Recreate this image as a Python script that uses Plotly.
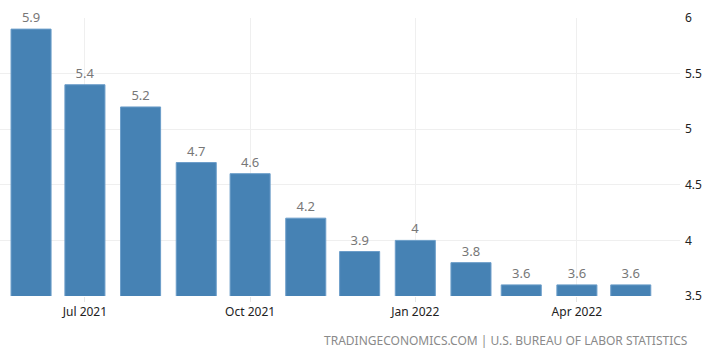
import plotly.graph_objects as go

months = ["2021-06-01", "2021-07-01", "2021-08-01", "2021-09-01", "2021-10-01", "2021-11-01",
          "2021-12-01", "2022-01-01", "2022-02-01", "2022-03-01", "2022-04-01", "2022-05-01"]
values = [5.9, 5.4, 5.2, 4.7, 4.6, 4.2, 3.9, 4.0, 3.8, 3.6, 3.6, 3.6]
labels = ["5.9", "5.4", "5.2", "4.7", "4.6", "4.2", "3.9", "4", "3.8", "3.6", "3.6", "3.6"]
tick_dates = ["2021-07-01", "2021-10-01", "2022-01-01", "2022-04-01"]
tick_text = ["Jul 2021", "Oct 2021", "Jan 2022", "Apr 2022"]
y_ticks = [3.5, 4, 4.5, 5, 5.5, 6]
y_text = ["3.5", "4", "4.5", "5", "5.5", "6"]
source = "TRADINGECONOMICS.COM | U.S. BUREAU OF LABOR STATISTICS"

FONT = "Noto Sans"
day_ms = 86400000

fig = go.Figure()
fig.add_trace(go.Bar(
    x=months, y=values, text=labels, textposition="outside",
    width=[22.3 * day_ms] * len(months),
    marker=dict(color="#4682B4", line=dict(color="#6b9dc9", width=1)),
    textfont=dict(family=FONT, size=13, color="#777777"),
    cliponaxis=False,
))

fig.update_layout(
    width=711, height=353,
    margin=dict(l=0, r=31, t=18, b=57),
    paper_bgcolor="white", plot_bgcolor="white",
    showlegend=False,
    font=dict(family=FONT, size=12, color="#222222"),
    xaxis=dict(
        type="date",
        range=["2021-05-14 17:00", "2022-05-28 10:00"],
        tickvals=tick_dates, ticktext=tick_text,
        showgrid=True, gridcolor="#efefef", gridwidth=1,
        ticks="outside", ticklen=5, tickcolor="#e6e6e6",
        showline=False, zeroline=False,
        tickfont=dict(family=FONT, size=12, color="#222222"),
    ),
    yaxis=dict(
        side="right", range=[3.5, 6],
        tickvals=y_ticks, ticktext=y_text,
        showgrid=True, gridcolor="#efefef", gridwidth=1,
        showline=False, zeroline=False,
        tickfont=dict(family=FONT, size=12, color="#222222"),
        ticks="", ticklabelstandoff=4,
    ),
    annotations=[dict(
        text=source, xref="paper", yref="paper", x=(690) / 680, y=-(341 - 296) / 278,
        xanchor="right", yanchor="middle", showarrow=False,
        font=dict(family=FONT, size=12, color="#8a8a8a"),
    )],
)

fig.write_html("out.html")
